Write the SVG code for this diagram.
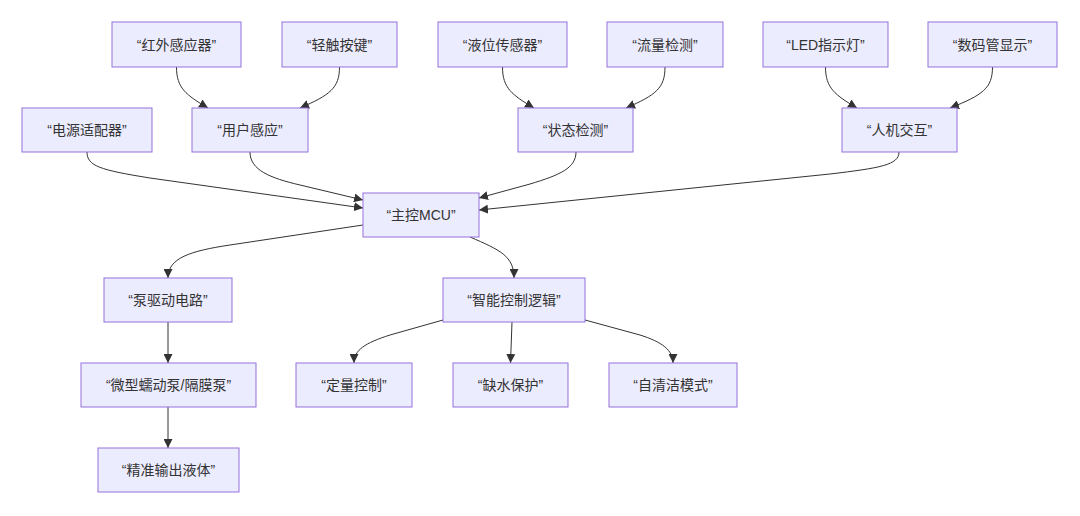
<svg xmlns="http://www.w3.org/2000/svg" width="1080" height="516" viewBox="0 0 1080 516">
<defs>
<style>
.node rect{fill:#ECECFF;stroke:#9370DB;stroke-width:1}
.node text{font-family:"Liberation Sans","Noto Sans CJK SC",sans-serif;font-size:14px;fill:#333;text-anchor:middle;dominant-baseline:central}
.edges path{fill:none;stroke:#333;stroke-width:1;marker-end:url(#arrow)}
</style>
<marker id="arrow" viewBox="0 0 10 10" refX="10" refY="5" markerWidth="9" markerHeight="9" markerUnits="userSpaceOnUse" orient="auto"><path d="M0,0 L10,5 L0,10 z" fill="#333"/></marker>
</defs>
<rect width="1080" height="516" fill="#fff"/>
<g class="edges" id="connectors">
<path d="M176.5,67 C176.5,88 186,95 208,108"/>
<path d="M339.5,67 C339.5,88 330,95 300,108"/>
<path d="M502.5,67 C502.5,88 512,95 534,108"/>
<path d="M665,67 C665,88 656,95 626,108"/>
<path d="M825.5,67 C825.5,88 835,95 857,108"/>
<path d="M992.5,67 C992.5,88 983,95 950,108"/>
<path d="M87,152 C87,166 100,170 150,178 L363,208"/>
<path d="M250,152 C250,170 270,178 300,185 L363,200"/>
<path d="M576,152 C576,168 560,175 530,184 L479,198"/>
<path d="M899,152 C899,165 880,168 830,174 L479,210"/>
<path d="M363,225 L230,245 C190,251 168,258 168,278"/>
<path d="M470,237 C500,250 514,256 514,278"/>
<path d="M168,322 L168,363"/>
<path d="M168,407 L168,448"/>
<path d="M443,320 L390,335 C365,343 354,350 354,363"/>
<path d="M512,322 L510.5,363"/>
<path d="M585,320 L640,335 C662,342 673,350 673,363"/>
</g>
<g class="node" id="n-hongwai"><rect x="112" y="22" width="129" height="45"/><text x="176.5" y="44.5">“红外感应器”</text></g>
<g class="node" id="n-qingchu"><rect x="282" y="22" width="115" height="45"/><text x="339.5" y="44.5">“轻触按键”</text></g>
<g class="node" id="n-yewei"><rect x="438" y="22" width="129" height="45"/><text x="502.5" y="44.5">“液位传感器”</text></g>
<g class="node" id="n-liuliang"><rect x="607" y="22" width="116" height="45"/><text x="665" y="44.5">“流量检测”</text></g>
<g class="node" id="n-led"><rect x="763" y="22" width="125" height="45"/><text x="825.5" y="44.5">“LED指示灯”</text></g>
<g class="node" id="n-shuma"><rect x="928" y="22" width="129" height="45"/><text x="992.5" y="44.5">“数码管显示”</text></g>
<g class="node" id="n-dianyuan"><rect x="22" y="108" width="130" height="44"/><text x="87" y="130">“电源适配器”</text></g>
<g class="node" id="n-yonghu"><rect x="192" y="108" width="116" height="44"/><text x="250" y="130">“用户感应”</text></g>
<g class="node" id="n-zhuangtai"><rect x="518" y="108" width="115" height="44"/><text x="575.5" y="130">“状态检测”</text></g>
<g class="node" id="n-renji"><rect x="842" y="108" width="115" height="44"/><text x="899.5" y="130">“人机交互”</text></g>
<g class="node" id="n-mcu"><rect x="363" y="193" width="116" height="44"/><text x="421" y="215">“主控MCU”</text></g>
<g class="node" id="n-beng"><rect x="104" y="278" width="128" height="44"/><text x="168" y="300">“泵驱动电路”</text></g>
<g class="node" id="n-zhineng"><rect x="443" y="278" width="142" height="44"/><text x="514" y="300">“智能控制逻辑”</text></g>
<g class="node" id="n-weixing"><rect x="81" y="363" width="175" height="44"/><text x="168.5" y="385">“微型蠕动泵/隔膜泵”</text></g>
<g class="node" id="n-dingliang"><rect x="296" y="363" width="116" height="44"/><text x="354" y="385">“定量控制”</text></g>
<g class="node" id="n-queshui"><rect x="453" y="363" width="115" height="44"/><text x="510.5" y="385">“缺水保护”</text></g>
<g class="node" id="n-ziqingjie"><rect x="609" y="363" width="128" height="44"/><text x="673" y="385">“自清洁模式”</text></g>
<g class="node" id="n-jingzhun"><rect x="98" y="448" width="141" height="44"/><text x="168.5" y="470">“精准输出液体”</text></g>
</svg>
